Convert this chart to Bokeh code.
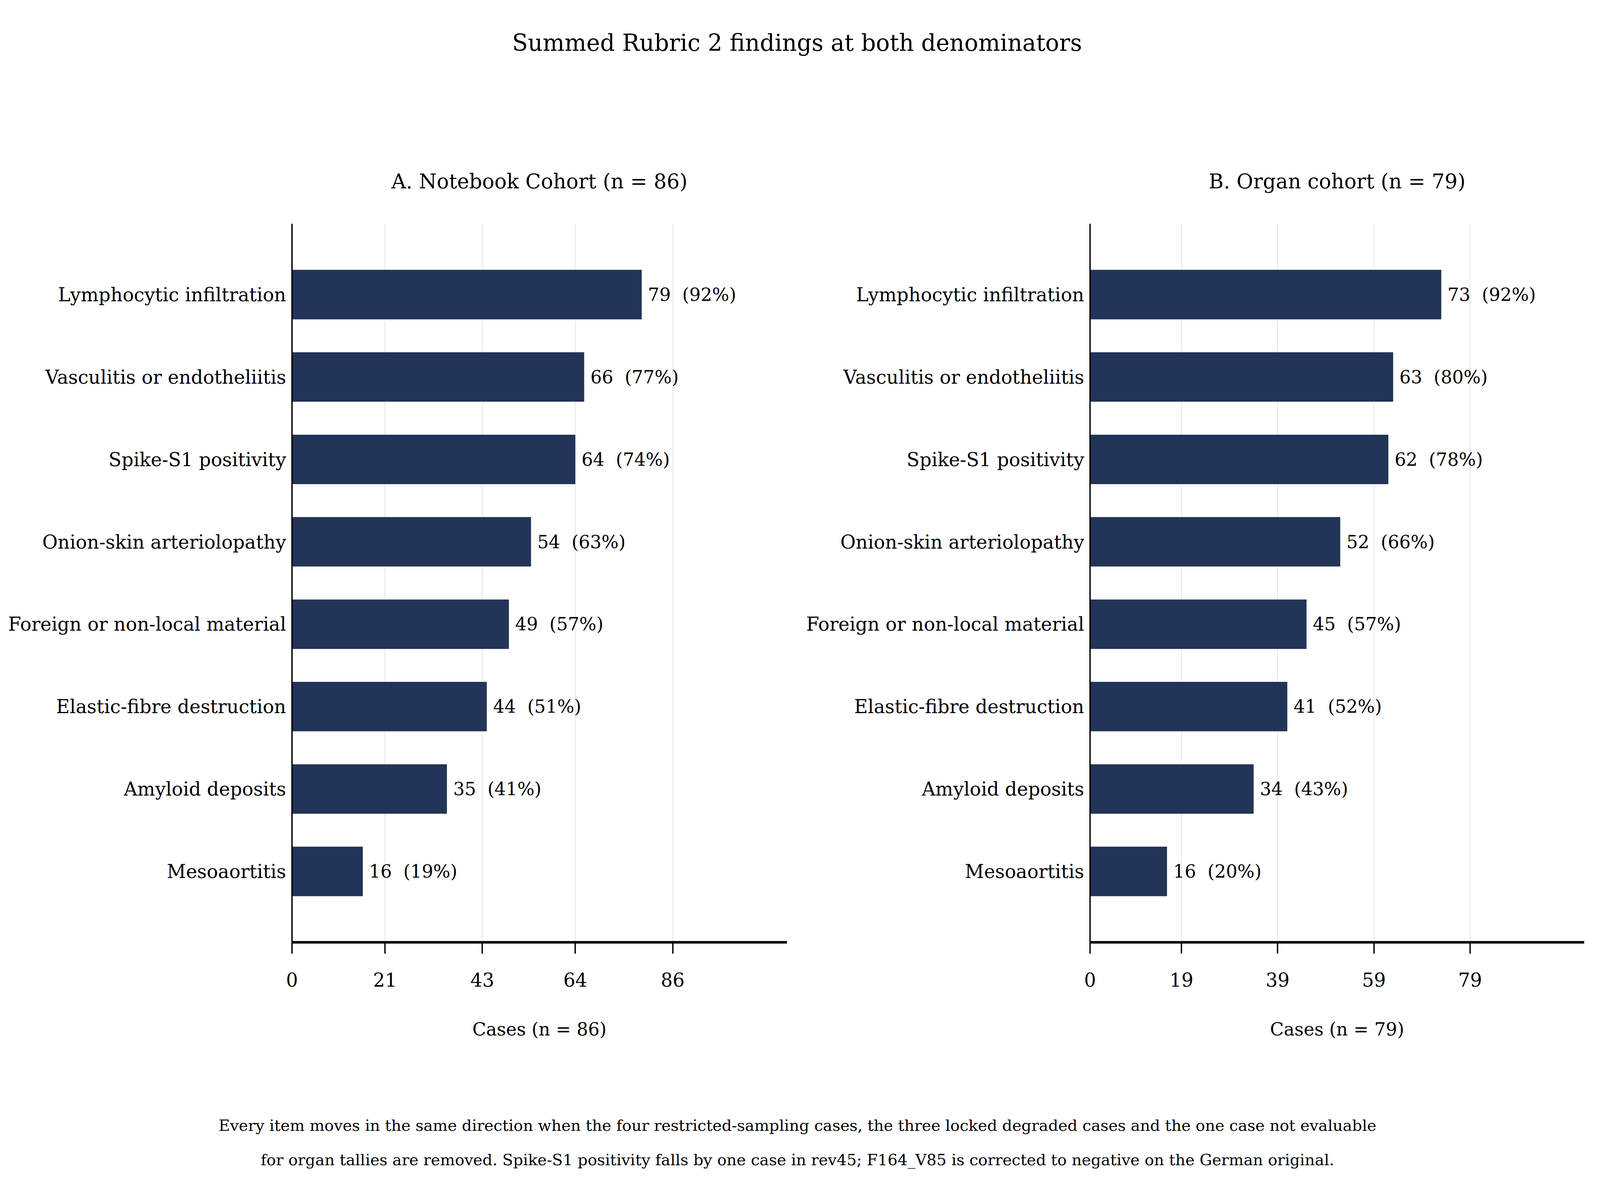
from bokeh.plotting import figure
from bokeh.models import ColumnDataSource, FactorRange, Range1d, FixedTicker, Label
from bokeh.layouts import column, row
from bokeh.core.properties import value
from bokeh.embed import file_html
from bokeh.resources import INLINE

# ---------------- data ----------------
categories = [
    "Lymphocytic infiltration",
    "Vasculitis or endotheliitis",
    "Spike-S1 positivity",
    "Onion-skin arteriolopathy",
    "Foreign or non-local material",
    "Elastic-fibre destruction",
    "Amyloid deposits",
    "Mesoaortitis",
]
notebook_counts = [79, 66, 64, 54, 49, 44, 35, 16]
notebook_pct = [92, 77, 74, 63, 57, 51, 41, 19]
organ_counts = [73, 63, 62, 52, 45, 41, 34, 16]
organ_pct = [92, 80, 78, 66, 57, 52, 43, 20]
n_notebook = 86
n_organ = 79
ticks_notebook = [0, 21, 43, 64, 86]
ticks_organ = [0, 19, 39, 59, 79]

suptitle = "Summed Rubric 2 findings at both denominators"
title_a = "A. Notebook Cohort (n = 86)"
title_b = "B. Organ cohort (n = 79)"
xlabel_a = "Cases (n = 86)"
xlabel_b = "Cases (n = 79)"
footnote_1 = ("Every item moves in the same direction when the four restricted-sampling cases, "
              "the three locked degraded cases and the one case not evaluable")
footnote_2 = ("for organ tallies are removed. Spike-S1 positivity falls by one case in rev45; "
              "F164_V85 is corrected to negative on the German original.")

# ---------------- style ----------------
FONT = "DejaVu Serif"
BAR = "#223457"
TICK_FS = "48px"
VAL_FS = "46px"
XLAB_FS = "46px"
SUB_FS = "52px"
SUP_FS = "59px"
FOOT_FS = "40px"
LW_H = 6.67   # thickness of horizontal lines
LW_V = 3.5    # thickness of vertical lines

TOP_H = 560
FRAME_H = 1839
BORDER_TOP = 12
BORDER_BOTTOM = 329
PANEL_H = BORDER_TOP + FRAME_H + BORDER_BOTTOM
FOOT_H = 305
TOTAL_W = 4075

A_W, A_LEFT, A_FRAME = 2040, 747, 1267
B_W, B_LEFT, B_FRAME = 2035, 750, 1265


def make_panel(counts, pct, n, ticks, xlabel, width, border_left, frame_w):
    xmax = n * 1.3
    yr = FactorRange(factors=list(reversed(categories)), range_padding=0.36,
                     range_padding_units="absolute")
    p = figure(width=width, height=PANEL_H, y_range=yr, x_range=Range1d(0, xmax),
               output_backend="svg", toolbar_location=None,
               min_border_left=border_left, min_border_right=width - border_left - frame_w,
               min_border_top=BORDER_TOP, min_border_bottom=BORDER_BOTTOM)
    p.outline_line_color = None
    p.background_fill_color = "white"
    p.border_fill_color = "white"

    labels = [f"{c}\u00a0 ({q}%)" for c, q in zip(counts, pct)]
    src = ColumnDataSource(dict(cat=categories, v=counts, lab=labels))
    p.hbar(y="cat", right="v", left=0, height=0.6, source=src,
           fill_color=BAR, line_color=None)
    p.text(x="v", y="cat", text="lab", source=src, x_offset=16,
           text_baseline="middle", text_align="left",
           text_font=value(FONT), text_font_size=VAL_FS, text_color="black")

    # x axis
    p.xaxis.ticker = FixedTicker(ticks=ticks)
    p.xaxis.axis_label = xlabel
    p.xaxis.axis_label_text_font = FONT
    p.xaxis.axis_label_text_font_size = XLAB_FS
    p.xaxis.axis_label_text_font_style = "normal"
    p.xaxis.axis_label_text_color = "black"
    p.xaxis.axis_label_standoff = 79
    p.xaxis.major_label_standoff = 48
    p.xaxis.major_tick_out = 29
    p.xaxis.major_tick_in = 0
    p.xaxis.minor_tick_out = 0
    p.xaxis.minor_tick_in = 0
    p.xaxis.major_tick_line_width = LW_V
    p.xaxis.major_tick_line_color = "black"
    p.xaxis.axis_line_width = LW_H

    # y axis
    p.yaxis.major_tick_out = 0
    p.yaxis.major_tick_in = 0
    p.yaxis.minor_tick_out = 0
    p.yaxis.major_label_standoff = 15
    p.yaxis.axis_line_width = LW_V

    for ax in (p.xaxis, p.yaxis):
        ax.axis_line_color = "black"
        ax.major_label_text_font = FONT
        ax.major_label_text_font_size = TICK_FS
        ax.major_label_text_color = "black"

    p.xgrid.grid_line_color = "#e6e6e6"
    p.xgrid.grid_line_width = 2.2
    p.ygrid.grid_line_color = None
    return p


pa = make_panel(notebook_counts, notebook_pct, n_notebook, ticks_notebook, xlabel_a,
                width=A_W, border_left=A_LEFT, frame_w=A_FRAME)
pb = make_panel(organ_counts, organ_pct, n_organ, ticks_organ, xlabel_b,
                width=B_W, border_left=B_LEFT, frame_w=B_FRAME)


def blank(height):
    f = figure(width=TOTAL_W, height=height, x_range=Range1d(0, TOTAL_W), y_range=Range1d(0, height),
               output_backend="svg", toolbar_location=None, x_axis_type=None, y_axis_type=None,
               min_border_left=0, min_border_right=0, min_border_top=0, min_border_bottom=0)
    f.outline_line_color = None
    f.grid.visible = False
    return f


def add_text(f, x, y, text, size):
    f.add_layout(Label(x=x, y=y, text=text, text_align="center", text_baseline="alphabetic",
                       text_font=FONT, text_font_size=size, text_color="black"))


top = blank(TOP_H)
add_text(top, 2040, TOP_H - 109, suptitle, SUP_FS)
# panel subtitles centred over each plotting frame
add_text(top, A_LEFT + A_FRAME / 2, TOP_H - 463, title_a, SUB_FS)
add_text(top, A_W + B_LEFT + B_FRAME / 2, TOP_H - 463, title_b, SUB_FS)

foot = blank(FOOT_H)
add_text(foot, 2041, FOOT_H - 139, footnote_1, FOOT_FS)
add_text(foot, 2041, FOOT_H - 227, footnote_2, FOOT_FS)

layout = column(top, row(pa, pb), foot)

with open("out.html", "w") as fh:
    fh.write(file_html(layout, INLINE))
